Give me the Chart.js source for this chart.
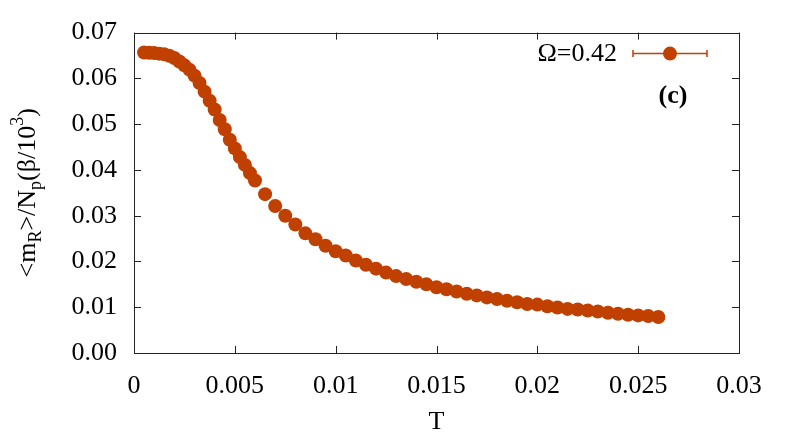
<!DOCTYPE html>
<html>
<head>
<meta charset="utf-8">
<script src="https://cdn.jsdelivr.net/npm/chart.js@4/dist/chart.umd.min.js"></script>
<style>
html,body{margin:0;padding:0;background:#fff;}
#c{display:block;}
</style>
</head>
<body>
<canvas id="c" width="789" height="441" style="width:789px;height:441px"></canvas>
<script>
// ---- data ----
const temps = [
  0.0005, 0.00075, 0.001, 0.00125, 0.0015, 0.00175, 0.002, 0.00225, 0.0025, 0.00275,
  0.003, 0.00325, 0.0035, 0.00375, 0.004, 0.00425, 0.0045, 0.00475, 0.005, 0.00525,
  0.0055, 0.00575, 0.006, 0.0065, 0.007, 0.0075, 0.008, 0.0085, 0.009, 0.0095,
  0.010, 0.0105, 0.011, 0.0115, 0.012, 0.0125, 0.013, 0.0135, 0.014, 0.0145,
  0.015, 0.0155, 0.016, 0.0165, 0.017, 0.0175, 0.018, 0.0185, 0.019, 0.0195,
  0.020, 0.0205, 0.021, 0.0215, 0.022, 0.0225, 0.023, 0.0235, 0.024, 0.0245,
  0.025, 0.0255, 0.026
];
const mR = [
  0.06565, 0.06560, 0.06552, 0.06540, 0.06525, 0.06495, 0.06445, 0.06370, 0.06285, 0.06190,
  0.06060, 0.05900, 0.05710, 0.05510, 0.05320, 0.05090, 0.04890, 0.04660, 0.04470, 0.04280,
  0.04110, 0.03930, 0.03770, 0.03470, 0.03210, 0.03000, 0.02807, 0.02614, 0.02486, 0.02343,
  0.02222, 0.02130, 0.02022, 0.01929, 0.01843, 0.01757, 0.01680, 0.01615, 0.01558, 0.01500,
  0.01436, 0.01393, 0.01343, 0.01293, 0.01258, 0.01215, 0.01179, 0.01143, 0.01108, 0.01071,
  0.01057, 0.01022, 0.00994, 0.00964, 0.00951, 0.00930, 0.00908, 0.00879, 0.00857, 0.00836,
  0.00822, 0.00808, 0.00786
];
const xTicks = [0, 0.005, 0.01, 0.015, 0.02, 0.025, 0.03];
const xTickLabels = ["0", "0.005", "0.01", "0.015", "0.02", "0.025", "0.03"];
const yTicks = [0, 0.01, 0.02, 0.03, 0.04, 0.05, 0.06, 0.07];
const yTickLabels = ["0.00", "0.01", "0.02", "0.03", "0.04", "0.05", "0.06", "0.07"];
const seriesLabel = "Ω=0.42";
const panelLabel = "(c)";

// ---- styling ----
const COLOR = '#c04000';
const SERIF = '"Liberation Serif", "DejaVu Serif", serif';
const FS = 26;

const points = temps.map((t, i) => ({x: t, y: mR[i]}));

const frame = {
  id: 'frame',
  afterDraw(chart) {
    const {ctx, chartArea: a, scales: {x, y}} = chart;
    ctx.save();
    ctx.strokeStyle = '#222';
    ctx.lineWidth = 1;
    ctx.beginPath();
    const TL = 7;
    xTicks.forEach(v => {
      const px = Math.round(x.getPixelForValue(v)) + 0.5;
      ctx.moveTo(px, a.bottom); ctx.lineTo(px, a.bottom - TL);
      ctx.moveTo(px, a.top); ctx.lineTo(px, a.top + TL);
    });
    yTicks.forEach(v => {
      const py = Math.round(y.getPixelForValue(v)) + 0.5;
      ctx.moveTo(a.left, py); ctx.lineTo(a.left + TL, py);
      ctx.moveTo(a.right, py); ctx.lineTo(a.right - TL, py);
    });
    ctx.stroke();
    ctx.strokeRect(Math.round(a.left) + 0.5, Math.round(a.top) + 0.5,
                   Math.round(a.right - a.left), Math.round(a.bottom - a.top));

    // legend
    ctx.fillStyle = '#000';
    ctx.font = FS + 'px ' + SERIF;
    ctx.textAlign = 'right';
    ctx.textBaseline = 'middle';
    const ly = a.top + 21;
    ctx.fillText(seriesLabel, a.right - 122, ly + 1);
    ctx.strokeStyle = COLOR;
    ctx.lineWidth = 1.5;
    ctx.beginPath();
    const lx0 = a.right - 106, lx1 = a.right - 32;
    ctx.moveTo(lx0, ly); ctx.lineTo(lx1, ly);
    ctx.moveTo(lx0, ly - 3.5); ctx.lineTo(lx0, ly + 3.5);
    ctx.moveTo(lx1, ly - 3.5); ctx.lineTo(lx1, ly + 3.5);
    ctx.stroke();
    ctx.fillStyle = COLOR;
    ctx.beginPath();
    ctx.arc((lx0 + lx1) / 2, ly, 7, 0, Math.PI * 2);
    ctx.fill();

    // panel label
    ctx.fillStyle = '#000';
    ctx.font = 'bold ' + FS + 'px ' + SERIF;
    ctx.textAlign = 'center';
    ctx.fillText(panelLabel, a.right - 66, a.top + 64);

    // y-axis title with sub/superscripts
    const parts = [
      {t: '<m', s: FS, dy: 0},
      {t: 'R', s: 18, dy: 6},
      {t: '>/N', s: FS, dy: 0},
      {t: 'p', s: 18, dy: 6},
      {t: '(β/10', s: FS, dy: 0},
      {t: '3', s: 18, dy: -12},
      {t: ')', s: FS, dy: 0}
    ];
    let total = 0;
    parts.forEach(p => { ctx.font = p.s + 'px ' + SERIF; p.w = ctx.measureText(p.t).width; total += p.w; });
    ctx.translate(35, (a.top + a.bottom) / 2);
    ctx.rotate(-Math.PI / 2);
    ctx.textAlign = 'left';
    ctx.textBaseline = 'alphabetic';
    let cx = -total / 2;
    parts.forEach(p => {
      ctx.font = p.s + 'px ' + SERIF;
      ctx.fillText(p.t, cx, p.dy);
      cx += p.w;
    });
    ctx.restore();
  }
};

new Chart(document.getElementById('c'), {
  type: 'scatter',
  data: {
    datasets: [{
      label: seriesLabel,
      data: points,
      backgroundColor: COLOR,
      borderWidth: 0,
      pointRadius: 7,
      pointHoverRadius: 7
    }]
  },
  options: {
    responsive: false,
    animation: false,
    devicePixelRatio: 1,
    layout: {padding: {top: 26, right: 50, left: 0, bottom: 0}},
    plugins: {legend: {display: false}, tooltip: {enabled: false}},
    scales: {
      x: {
        type: 'linear', min: 0, max: 0.03,
        afterBuildTicks: s => { s.ticks = xTicks.map(v => ({value: v})); },
        afterFit: s => { s.height = 88; },
        grid: {display: false, drawTicks: false},
        border: {display: false},
        ticks: {
          color: '#000', padding: 18, maxRotation: 0, autoSkip: false,
          font: {family: SERIF, size: FS},
          callback: (v, i) => xTickLabels[i]
        },
        title: {display: true, text: 'T', color: '#000', font: {family: SERIF, size: FS}, padding: {top: 0, bottom: 3}}
      },
      y: {
        type: 'linear', min: 0, max: 0.07,
        afterBuildTicks: s => { s.ticks = yTicks.map(v => ({value: v})); },
        afterFit: s => { s.width = 134; },
        grid: {display: false, drawTicks: false},
        border: {display: false},
        ticks: {
          color: '#000', padding: 17, autoSkip: false,
          font: {family: SERIF, size: FS},
          callback: (v, i) => yTickLabels[i]
        }
      }
    }
  },
  plugins: [frame]
});
</script>
</body>
</html>
